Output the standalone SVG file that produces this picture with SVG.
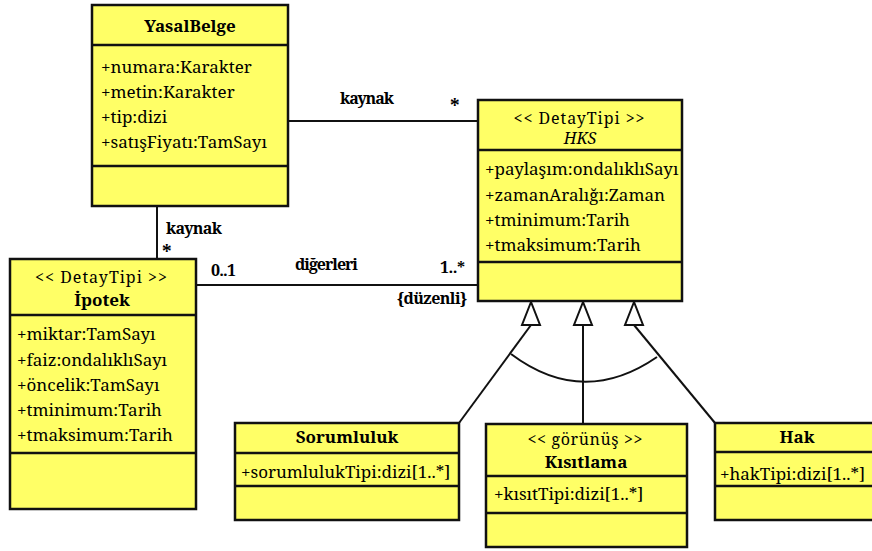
<svg xmlns="http://www.w3.org/2000/svg" width="872" height="551" viewBox="0 0 872 551" font-family="'Noto Serif', 'DejaVu Serif', serif">
  <style>
    .box { fill: #FFFF66; stroke: #111; stroke-width: 2.5; }
    .sep { stroke: #111; stroke-width: 2.5; }
    .line { fill: none; stroke: #111; stroke-width: 2; }
    .tri { fill: #fff; stroke: #111; stroke-width: 2; }
    text { font-family: "Noto Serif", "DejaVu Serif", serif; fill: #000; }
    .attr { font-size: 17px; }
    .name { font-size: 17px; font-weight: bold; text-anchor: middle; }
    .stereo { font-size: 16px; text-anchor: middle; }
    .lbl { font-size: 16px; font-weight: bold; }
    .star { font-size: 19px; font-weight: bold; }
  </style>
  <rect width="872" height="551" fill="#fff"/>

  <!-- connectors -->
  <g id="connectors">
    <line class="line" x1="288" y1="121" x2="478" y2="121"/>
    <line class="line" x1="157" y1="206" x2="157" y2="259"/>
    <line class="line" x1="196" y1="285" x2="478" y2="285"/>
    <line class="line" x1="531" y1="325" x2="459" y2="423"/>
    <line class="line" x1="583" y1="325" x2="583" y2="424"/>
    <line class="line" x1="634" y1="325" x2="715" y2="423"/>
    <path class="line" d="M511,354 Q583,408 657,357"/>
    <polygon class="tri" points="531,302 522,325 540,325"/>
    <polygon class="tri" points="583,302 574,325 592,325"/>
    <polygon class="tri" points="634,302 625,325 643,325"/>
    <text class="lbl" x="340" y="104" textLength="54">kaynak</text>
    <text class="star" x="450" y="113">*</text>
    <text class="lbl" x="166" y="234" textLength="56">kaynak</text>
    <text class="star" x="162" y="259">*</text>
    <text class="lbl" x="211" y="276" textLength="25">0..1</text>
    <text class="lbl" x="295" y="270" textLength="63">diğerleri</text>
    <text class="lbl" x="440" y="273" textLength="25">1..*</text>
    <text class="lbl" x="397" y="304" textLength="70">{düzenli}</text>
  </g>

  <!-- YasalBelge -->
  <g id="YasalBelge">
    <rect class="box" x="92" y="5" width="196" height="201"/>
    <line class="sep" x1="92" y1="45" x2="288" y2="45"/>
    <line class="sep" x1="92" y1="166" x2="288" y2="166"/>
    <text class="name" x="190" y="32">YasalBelge</text>
    <text class="attr" x="101" y="73">+numara:Karakter</text>
    <text class="attr" x="101" y="98">+metin:Karakter</text>
    <text class="attr" x="101" y="123">+tip:dizi</text>
    <text class="attr" x="101" y="148">+satışFiyatı:TamSayı</text>
  </g>

  <!-- HKS -->
  <g id="HKS">
    <rect class="box" x="478" y="100" width="204" height="201"/>
    <line class="sep" x1="478" y1="150" x2="682" y2="150"/>
    <line class="sep" x1="478" y1="262" x2="682" y2="262"/>
    <text class="stereo" x="579" y="124" textLength="131">&lt;&lt; DetayTipi &gt;&gt;</text>
    <text class="stereo" x="580" y="144" font-style="italic">HKS</text>
    <text class="attr" x="485" y="175">+paylaşım:ondalıklıSayı</text>
    <text class="attr" x="485" y="201">+zamanAralığı:Zaman</text>
    <text class="attr" x="485" y="226">+tminimum:Tarih</text>
    <text class="attr" x="485" y="251">+tmaksimum:Tarih</text>
  </g>

  <!-- İpotek -->
  <g id="Ipotek">
    <rect class="box" x="10" y="259" width="186" height="250"/>
    <line class="sep" x1="10" y1="315" x2="196" y2="315"/>
    <line class="sep" x1="10" y1="453" x2="196" y2="453"/>
    <text class="stereo" x="101" y="283" textLength="132">&lt;&lt; DetayTipi &gt;&gt;</text>
    <text class="name" x="102" y="306">İpotek</text>
    <text class="attr" x="17" y="340">+miktar:TamSayı</text>
    <text class="attr" x="17" y="366">+faiz:ondalıklıSayı</text>
    <text class="attr" x="17" y="391">+öncelik:TamSayı</text>
    <text class="attr" x="17" y="416">+tminimum:Tarih</text>
    <text class="attr" x="17" y="441">+tmaksimum:Tarih</text>
  </g>

  <!-- Sorumluluk -->
  <g id="Sorumluluk">
    <rect class="box" x="235" y="423" width="224" height="97"/>
    <line class="sep" x1="235" y1="453" x2="459" y2="453"/>
    <line class="sep" x1="235" y1="486" x2="459" y2="486"/>
    <text class="name" x="347" y="443">Sorumluluk</text>
    <text class="attr" x="241" y="478">+sorumlulukTipi:dizi[1..*]</text>
  </g>

  <!-- Kısıtlama -->
  <g id="Kisitlama">
    <rect class="box" x="486" y="424" width="201" height="123"/>
    <line class="sep" x1="486" y1="476" x2="687" y2="476"/>
    <line class="sep" x1="486" y1="513" x2="687" y2="513"/>
    <text class="stereo" x="585" y="445" textLength="115">&lt;&lt; görünüş &gt;&gt;</text>
    <text class="name" x="586" y="468">Kısıtlama</text>
    <text class="attr" x="494" y="500">+kısıtTipi:dizi[1..*]</text>
  </g>

  <!-- Hak -->
  <g id="Hak">
    <rect class="box" x="715" y="423" width="165" height="97"/>
    <line class="sep" x1="715" y1="452" x2="880" y2="452"/>
    <line class="sep" x1="715" y1="486" x2="880" y2="486"/>
    <text class="name" x="797" y="443">Hak</text>
    <text class="attr" x="720" y="480">+hakTipi:dizi[1..*]</text>
  </g>
</svg>
